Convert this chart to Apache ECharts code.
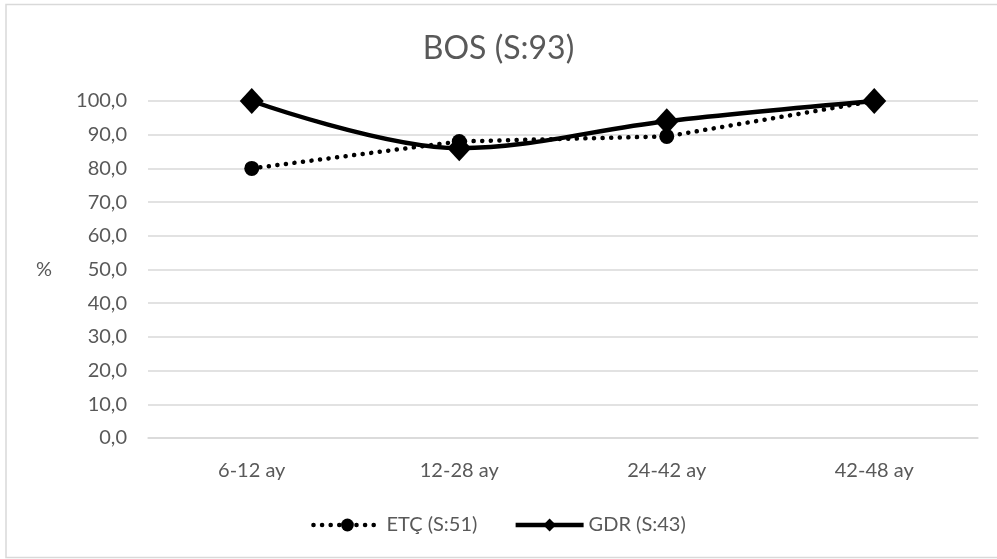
<!DOCTYPE html>
<html><head><meta charset="utf-8">
<script src="https://cdn.jsdelivr.net/npm/echarts@6/dist/echarts.min.js"></script>
<style>html,body{margin:0;padding:0;background:#fff}#c{width:997px;height:559px}</style>
</head><body><div id="c"></div>
<script>
const categories = ['6-12 ay', '12-28 ay', '24-42 ay', '42-48 ay'];
const etcValues = [80.0, 88.0, 89.5, 100.0];
const gdrValues = [100.0, 86.0, 94.0, 100.0];
const titleText = 'BOS (S:93)';
const etcName = 'ETÇ (S:51)';
const gdrName = 'GDR (S:43)';

const chart = echarts.init(document.getElementById('c'));
const txt = '#595959';
const font = 'Lato, "Open Sans", sans-serif';
chart.setOption({
  animation: false,
  backgroundColor: '#fff',
  graphic: [{type: 'rect', shape: {x: 6, y: 4.5, width: 1000, height: 553}, style: {fill: 'none', stroke: '#d9d9d9', lineWidth: 1.5}, silent: true}],
  title: {text: titleText, left: 'center', top: 28, textStyle: {color: txt, fontSize: 32, fontWeight: 'normal', fontFamily: font}},
  legend: {top: 510, left: 'center', itemWidth: 68, itemHeight: 16, itemGap: 36,
    textStyle: {color: txt, fontSize: 20, fontFamily: font},
    data: [
      {name: etcName, lineStyle: {width: 4.5, type: [0.1, 8.5], cap: 'round', color: '#000'}},
      {name: gdrName, lineStyle: {width: 4.5, color: '#000'}}
    ]},
  grid: {left: 148, right: 19, top: 101, bottom: 121},
  xAxis: {type: 'category', data: categories, boundaryGap: true,
    axisLine: {lineStyle: {color: '#d9d9d9', width: 1.5}}, axisTick: {show: false},
    axisLabel: {color: txt, fontSize: 20, fontFamily: font, margin: 23}},
  yAxis: {type: 'value', min: 0, max: 100, interval: 10,
    name: '%', nameLocation: 'middle', nameRotate: 0, nameGap: 96,
    nameTextStyle: {color: txt, fontSize: 20, fontFamily: font},
    axisLine: {show: false}, axisTick: {show: false},
    splitLine: {lineStyle: {color: '#d9d9d9', width: 1.5}},
    axisLabel: {color: txt, fontSize: 20, fontFamily: font, margin: 21,
      formatter: v => v.toFixed(1).replace('.', ',')}},
  series: [
    {name: etcName, type: 'line', data: etcValues, symbol: 'circle', symbolSize: 15,
      lineStyle: {color: '#000', width: 4.5, type: [0.1, 8.5], cap: 'round'},
      itemStyle: {color: '#000'}},
    {name: gdrName, type: 'line', data: gdrValues, symbol: 'diamond', symbolSize: [24, 26], smooth: 0.35,
      lineStyle: {color: '#000', width: 4.5},
      itemStyle: {color: '#000'}}
  ]
});
</script></body></html>
